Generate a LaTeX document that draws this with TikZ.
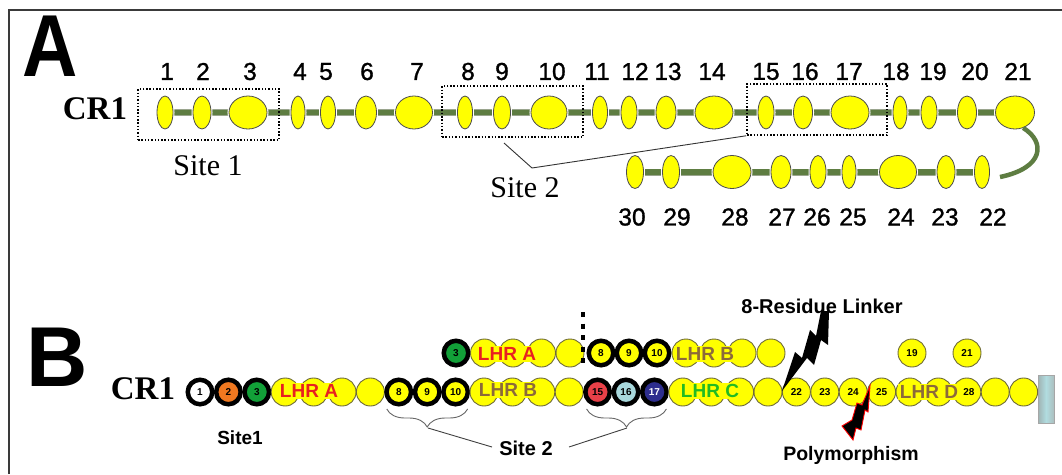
\documentclass[tikz,border=0pt]{standalone}
\usepackage{fontspec}
\setmainfont{Liberation Serif}
\newfontfamily\arial{Liberation Sans}
\newfontfamily\arialfb[FakeBold=1.2]{Liberation Sans}
\usetikzlibrary{shapes.geometric,decorations.pathreplacing,calc}
\newcommand\myfs[1]{\fontsize{#1}{#1}\selectfont}
\definecolor{bbone}{HTML}{5E7D42}
\definecolor{bbedge}{HTML}{9AA58E}
\definecolor{ylw}{HTML}{FFFF00}
\definecolor{cedge}{HTML}{6E6A3A}
\definecolor{lhrred}{HTML}{E82020}
\definecolor{lhrbrown}{HTML}{8C6A3A}
\definecolor{lhrgreen}{HTML}{22BB22}
\definecolor{orng}{HTML}{F07820}
\definecolor{grn}{HTML}{12A038}
\definecolor{rd}{HTML}{E84048}
\definecolor{ltb}{HTML}{A8D8DC}
\definecolor{nvy}{HTML}{2E2E8E}
\definecolor{frmcol}{HTML}{3A3A3A}
\pgfdeclarelayer{bg}\pgfsetlayers{bg,main}
\begin{document}
\begin{tikzpicture}[x=1pt,y=-1pt,
 ell/.style={ellipse, minimum height=33pt, inner sep=0pt, fill=ylw, draw=black!70, line width=0.8pt, preaction={draw=white, line width=3pt}},
 numA/.style={font=\arialfb\myfs{24.5}, inner sep=0pt},
 bar/.style={line width=7pt, draw=bbedge},
 barin/.style={line width=5.2pt, draw=bbone},
 sitebox/.style={draw, line width=1.5pt, dash pattern=on 1.5pt off 1.8pt, inner sep=0pt},
 pc/.style={circle, minimum size=28pt, inner sep=0pt, fill=ylw, draw=cedge, line width=0.9pt, font=\arial\bfseries\myfs{10}},
 tc/.style={circle, minimum size=24.5pt, inner sep=0pt, fill=ylw, draw=black, line width=4.5pt, font=\arial\bfseries\myfs{10}},
 lhr/.style={fill=ylw, inner xsep=2pt, inner ysep=1pt, font=\arial\bfseries\myfs{19}},
 lbl/.style={font=\arial\bfseries\myfs{20}, inner sep=0pt},
 serifbig/.style={font=\bfseries\myfs{33}, inner sep=0pt},
 seriflbl/.style={font=\myfs{30}, inner sep=0pt},
 thin/.style={draw=black!80, line width=0.9pt},
 bracedeco/.style={draw=black!60, line width=0.9pt, decorate, decoration={brace, mirror, amplitude=18pt}},
]
\useasboundingbox (0,0) rectangle (1062,474);
\draw[frmcol, line width=2pt] (9,474) -- (9,10) -- (1062,10);

% ---------------- Panel A ----------------
\node[font=\arial\bfseries\myfs{88}, inner sep=0pt, xscale=0.87] (labA) at (50.5,46.5) {A};
\node[serifbig] (cr1a) at (95,109) {CR1};

\foreach \n/\x/\w in {1/165/16, 2/202/18, 3/248/38, 4/298/14, 5/328/15, 6/366/21, 7/414/37,
  8/465/15, 9/502/17, 10/549/36, 11/600/15, 12/629/16, 13/666/20, 14/714/38,
  15/766/16, 16/803/19, 17/850/38, 18/900/14, 19/929/16, 20/967/19, 21/1015/39}
  \node[ell, minimum width=\w pt] (a\n) at (\x,112.5) {};
\foreach \n/\x/\w in {30/635/17, 29/671/17, 28/732/38, 27/781/20, 26/818/16, 25/849/14,
  24/898/37, 23/946/18, 22/982/15}
  \node[ell, minimum width=\w pt] (a\n) at (\x,172) {};

\begin{pgfonlayer}{bg}
  \draw[bar] (a1.center) -- (a21.center);
  \draw[barin] (a1.center) -- (a21.center);
  \draw[bar] (a30.center) -- (a22.center);
  \draw[barin] (a30.center) -- (a22.center);
\end{pgfonlayer}
\coordinate (loopend) at (1000,177);
\draw[bbone, line width=4.5pt] (a21.-62) .. controls (1046,142) and (1044,168) .. (loopend);

\foreach \n/\x in {1/167, 2/203, 3/250, 4/300, 5/326, 6/367, 7/417, 8/468, 9/502, 10/552,
  11/597, 12/635, 13/668, 14/712, 15/766, 16/805, 17/849, 18/896, 19/933, 20/975, 21/1018}
  \node[numA] (na\n) at (\x,71.5) {\n};
\foreach \n/\x in {30/632, 29/677, 28/735, 27/782, 26/817, 25/853, 24/901, 23/945, 22/993}
  \node[numA] (na\n) at (\x,217) {\n};

\node[sitebox, minimum width=141pt, minimum height=51pt] (box1) at (208.5,114.5) {};
\node[sitebox, minimum width=141pt, minimum height=51pt] (box2) at (512.5,111.5) {};
\node[sitebox, minimum width=140pt, minimum height=51pt] (box3) at (817,109.5) {};
\node[seriflbl] (site1a) at (208,166) {Site 1};
\node[seriflbl] (site2a) at (525,188) {Site 2};
\coordinate (s2start) at (504,143);
\coordinate (s2kink) at (532,168);
\draw[thin] (s2start) -- (s2kink) -- (box3.south west);

% ---------------- Panel B ----------------
\node[font=\arial\bfseries\myfs{85}, inner sep=0pt] (labB) at (57,357.5) {B};
\node[serifbig] (cr1b) at (143,389) {CR1};

% bottom row
\foreach \i in {0,...,29} \coordinate (p\i) at ({200+28.4*\i},392);
\node[tc, fill=white] (b0) at (p0) {1};
\node[tc, fill=orng] (b1) at (p1) {2};
\node[tc, fill=grn] (b2) at (p2) {3};
\foreach \i in {3,4,5,6} \node[pc] (b\i) at (p\i) {};
\node[tc] (b7) at (p7) {8};
\node[tc] (b8) at (p8) {9};
\node[tc] (b9) at (p9) {10};
\foreach \i in {10,11,12,13} \node[pc] (b\i) at (p\i) {};
\node[tc, fill=rd] (b14) at (p14) {15};
\node[tc, fill=ltb] (b15) at (p15) {16};
\node[tc, fill=nvy, text=white] (b16) at (p16) {17};
\foreach \i in {17,18,19,20} \node[pc] (b\i) at (p\i) {};
\node[pc] (b21) at (p21) {22};
\node[pc] (b22) at (p22) {23};
\node[pc] (b23) at (p23) {24};
\node[pc] (b24) at (p24) {25};
\node[pc] (b25) at (p25) {};
\node[pc] (b26) at (p26) {};
\node[pc] (b27) at (p27) {\hspace*{4pt}28};
\node[pc] (b28) at (p28) {};
\node[pc] (b29) at (p29) {};
\node[minimum width=16pt, minimum height=48pt, inner sep=0pt, draw=gray!70, line width=0.6pt,
  left color=gray!75!teal!60, right color=gray!70!teal!50, middle color=ltb!90!white] (cap) at (1046,399) {};

% top row
\node[tc, fill=grn] (t3) at (456,353) {3};
\node[pc] (ta1) at (484.5,353) {};
\node[pc] (ta2) at (513,353) {};
\node[pc] (ta3) at (541.5,353) {};
\node[pc] (tp) at (570,353) {};
\node[tc] (t8) at (601,353) {8};
\node[tc] (t9) at (629,353) {9};
\node[tc] (t10) at (657,353) {10};
\node[pc] (tb1) at (686,353) {};
\node[pc] (tb2) at (714,353) {};
\node[pc] (tb3) at (742,353) {};
\node[pc] (tq) at (771,353) {};
\node[pc] (t19) at (912,353) {19};
\node[pc] (t21) at (967,353) {21};
\draw[black, line width=4pt, dash pattern=on 5pt off 6.5pt] (583,312) -- (583,368);

% LHR labels
\node[lhr, text=lhrred] (lhra1) at (309,391) {LHR A};
\node[lhr, text=lhrred] (lhra2) at (507,354) {LHR A};
\node[lhr, text=lhrbrown] (lhrb1) at (508,390) {LHR B};
\node[lhr, text=lhrbrown] (lhrb2) at (705,354) {LHR B};
\node[lhr, text=lhrgreen] (lhrc) at (710,391) {LHR C};
\node[lhr, text=lhrbrown] (lhrd) at (929,392) {LHR D};

% site labels
\node[lbl, font=\arial\bfseries\myfs{19}] (site1b) at (240,437.5) {Site1};
\node[lbl] (site2b) at (526,448.5) {Site 2};
\draw[bracedeco] ($(b7.center)+(-12,17)$) -- ($(b9.center)+(12,17)$);
\draw[bracedeco] ($(b14.center)+(-11,17)$) -- ($(b16.center)+(12,17)$);
\coordinate (tip1) at (428,428);
\coordinate (tip2) at (627,428);
\coordinate (s2l) at (492,447);
\coordinate (s2r) at (569,447);
\draw[draw=black!75, line width=0.9pt] (tip1) -- (s2l);
\draw[draw=black!75, line width=0.9pt] (s2r) -- (tip2);

\node[lbl] (linker) at (822,306) {8-Residue Linker};
\node[lbl, font=\arial\bfseries\myfs{19.5}] (poly) at (851,455) {Polymorphism};

% lightning bolts
\fill[black] (782,391) -- (795,352) -- (802,358) -- (810,330) -- (816,336) -- (821,311)
  -- (829,311) -- (828,345) -- (821,340) -- (814,365) -- (807,358) -- cycle;
\filldraw[fill=black, draw=red, line width=0.9pt] (870,386) -- (862,405) -- (857,403) -- (852,420)
  -- (842,426) -- (853,440) -- (856,428) -- (861,430) -- (865,410) -- (868,412) -- cycle;
\end{tikzpicture}
\end{document}
